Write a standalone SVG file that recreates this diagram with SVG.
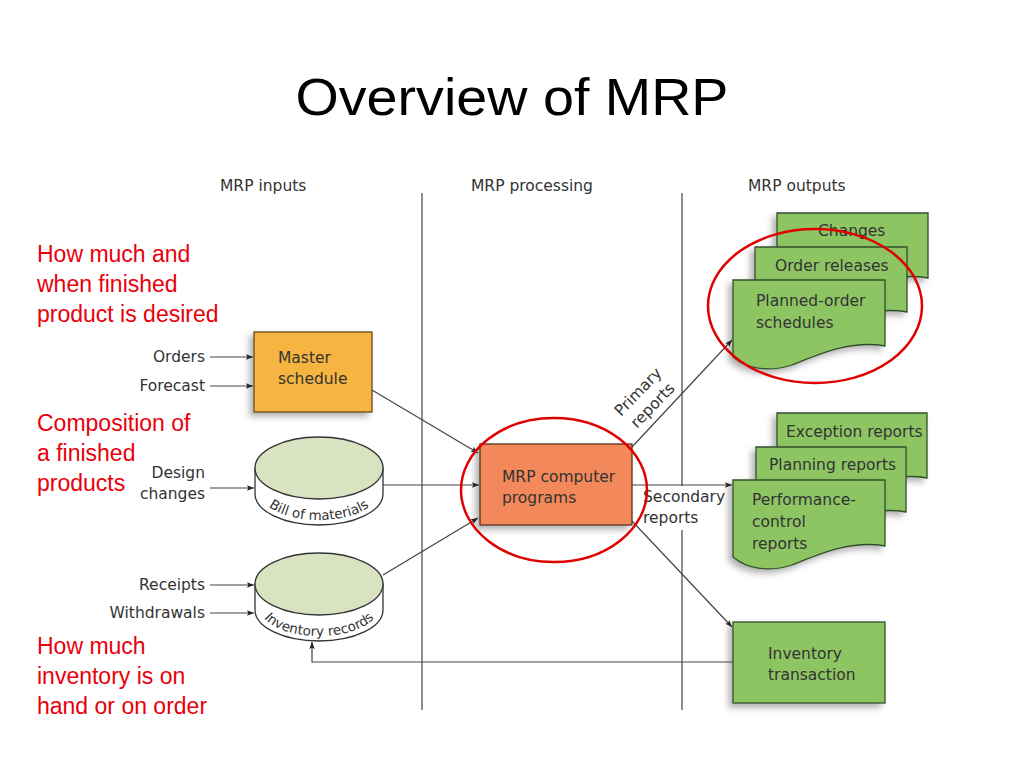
<svg xmlns="http://www.w3.org/2000/svg" width="1024" height="768" viewBox="0 0 1024 768">
<defs>
<filter id="sh" x="-20%" y="-20%" width="140%" height="140%">
<feDropShadow dx="-4" dy="4" stdDeviation="3" flood-color="#000" flood-opacity="0.3"/>
</filter>
<marker id="ar" viewBox="0 0 10 10" refX="10" refY="5" markerWidth="9" markerHeight="7" markerUnits="userSpaceOnUse" orient="auto">
<path d="M0,1 L10,5 L0,9 L2,5 Z" fill="#222"/>
</marker>
<path id="arcB" d="M260,492 A59,28 0 0 0 378,492"/>
<path id="arcI" d="M260,608 A59,28 0 0 0 378,608"/>
</defs>
<style>
.lbl{font-family:"DejaVu Sans","Liberation Sans",Arial,sans-serif;font-size:15.5px;fill:#333}
.red{font-family:"Liberation Sans",Arial,sans-serif;font-size:23px;fill:#E8000B}
.ln{stroke:#444;stroke-width:1.2;fill:none}
.doc{fill:#8DC563;stroke:#33502A;stroke-width:1.3}
.circ{fill:none;stroke:#E00000;stroke-width:2.5}
.arc{font-family:"DejaVu Sans","Liberation Sans",Arial,sans-serif;font-size:13.5px;fill:#333}
</style>
<rect width="1024" height="768" fill="#fff"/>
<text x="512" y="115" text-anchor="middle" font-family="Liberation Sans,Arial,sans-serif" font-size="52" textLength="433" lengthAdjust="spacingAndGlyphs" fill="#000">Overview of MRP</text>

<g id="headers">
<text class="lbl" x="220" y="191">MRP inputs</text>
<text class="lbl" x="471" y="191">MRP processing</text>
<text class="lbl" x="748" y="191">MRP outputs</text>
</g>

<g id="dividers" stroke="#444" stroke-width="1.2">
<line x1="422" y1="193" x2="422" y2="710"/>
<line x1="682" y1="193" x2="682" y2="486"/>
<line x1="682" y1="530" x2="682" y2="710"/>
</g>

<g id="notes">
<text class="red" x="37" y="262">How much and</text>
<text class="red" x="37" y="292">when finished</text>
<text class="red" x="37" y="322">product is desired</text>
<text class="red" x="37" y="431">Composition of</text>
<text class="red" x="37" y="461">a finished</text>
<text class="red" x="37" y="491">products</text>
<text class="red" x="37" y="654">How much</text>
<text class="red" x="37" y="684">inventory is on</text>
<text class="red" x="37" y="714">hand or on order</text>
</g>

<g id="input-labels">
<text class="lbl" x="205" y="362" text-anchor="end">Orders</text>
<text class="lbl" x="205" y="391" text-anchor="end">Forecast</text>
<text class="lbl" x="205" y="478" text-anchor="end">Design</text>
<text class="lbl" x="205" y="499" text-anchor="end">changes</text>
<text class="lbl" x="205" y="590" text-anchor="end">Receipts</text>
<text class="lbl" x="205" y="618" text-anchor="end">Withdrawals</text>
</g>

<g id="master-schedule">
<rect x="254" y="332" width="118" height="80" fill="#F6B540" stroke="#6B4A1A" stroke-width="1.3" filter="url(#sh)"/>
<text class="lbl" x="278" y="363">Master</text>
<text class="lbl" x="278" y="384">schedule</text>
</g>

<g id="bill-of-materials">
<path d="M255,468 V494 A64,31 0 0 0 383,494 V468 Z" fill="#fff" stroke="#333" stroke-width="1.3"/>
<ellipse cx="319" cy="468" rx="64" ry="31" fill="#D9E2C1" stroke="#333" stroke-width="1.3"/>
<text class="arc"><textPath href="#arcB" startOffset="50%" text-anchor="middle">Bill of materials</textPath></text>
</g>

<g id="inventory-records">
<path d="M255,584 V610 A64,31 0 0 0 383,610 V584 Z" fill="#fff" stroke="#333" stroke-width="1.3"/>
<ellipse cx="319" cy="584" rx="64" ry="31" fill="#D9E2C1" stroke="#333" stroke-width="1.3"/>
<text class="arc"><textPath href="#arcI" startOffset="50%" text-anchor="middle">Inventory records</textPath></text>
</g>

<g id="mrp-programs">
<rect x="480" y="444" width="152" height="81" fill="#F3895A" stroke="#5A3220" stroke-width="1.3" filter="url(#sh)"/>
<text class="lbl" x="502" y="482">MRP computer</text>
<text class="lbl" x="502" y="503">programs</text>
</g>

<g id="primary-docs">
<path class="doc" filter="url(#sh)" d="M777,213 H928 V278 C895,272 865,285 835,297 C810,305 790,300 777,290 Z"/>
<text class="lbl" x="818" y="236">Changes</text>
<path class="doc" filter="url(#sh)" d="M755,247 H907 V312 C874,306 844,319 814,331 C789,339 768,334 755,324 Z"/>
<text class="lbl" x="775" y="271">Order releases</text>
<path class="doc" filter="url(#sh)" d="M733,280 H885 V346 C852,340 822,353 792,365 C767,373 746,368 733,357 Z"/>
<text class="lbl" x="756" y="306">Planned-order</text>
<text class="lbl" x="756" y="328">schedules</text>
</g>

<g id="secondary-docs">
<path class="doc" filter="url(#sh)" d="M777,413 H927 V478 C894,472 864,485 834,497 C809,505 790,500 777,490 Z"/>
<text class="lbl" x="786" y="437">Exception reports</text>
<path class="doc" filter="url(#sh)" d="M756,447 H906 V512 C873,506 843,519 813,531 C788,539 769,534 756,524 Z"/>
<text class="lbl" x="769" y="470">Planning reports</text>
<path class="doc" filter="url(#sh)" d="M733,480 H885 V546 C852,540 822,553 792,565 C767,573 746,568 733,557 Z"/>
<text class="lbl" x="752" y="505">Performance-</text>
<text class="lbl" x="752" y="527">control</text>
<text class="lbl" x="752" y="549">reports</text>
</g>

<g id="inventory-transaction">
<rect x="733" y="622" width="152" height="81" fill="#8DC563" stroke="#33502A" stroke-width="1.3" filter="url(#sh)"/>
<text class="lbl" x="768" y="659">Inventory</text>
<text class="lbl" x="768" y="680">transaction</text>
</g>

<g id="connectors" class="ln">
<line x1="210" y1="357" x2="253" y2="357" marker-end="url(#ar)"/>
<line x1="210" y1="386" x2="253" y2="386" marker-end="url(#ar)"/>
<line x1="210" y1="488" x2="254" y2="488" marker-end="url(#ar)"/>
<line x1="210" y1="585" x2="254" y2="585" marker-end="url(#ar)"/>
<line x1="210" y1="613" x2="254" y2="613" marker-end="url(#ar)"/>
<line x1="372" y1="390" x2="478" y2="453" marker-end="url(#ar)"/>
<line x1="383" y1="485" x2="479" y2="485" marker-end="url(#ar)"/>
<line x1="383" y1="575" x2="478" y2="518" marker-end="url(#ar)"/>
<line x1="632" y1="447" x2="732" y2="340" marker-end="url(#ar)"/>
<line x1="632" y1="485" x2="732" y2="485" marker-end="url(#ar)"/>
<line x1="632" y1="521" x2="732" y2="627" marker-end="url(#ar)"/>
<polyline points="733,662 312,662 312,642" marker-end="url(#ar)"/>
</g>

<g id="connector-labels">
<text class="lbl" transform="translate(621,417) rotate(-46)">Primary</text>
<text class="lbl" transform="translate(637,429) rotate(-46)">reports</text>
<text class="lbl" x="643" y="502">Secondary</text>
<text class="lbl" x="643" y="523">reports</text>
</g>

<g id="highlights">
<ellipse class="circ" cx="554" cy="490" rx="93" ry="72"/>
<ellipse class="circ" cx="815" cy="306" rx="107" ry="77"/>
</g>
</svg>
